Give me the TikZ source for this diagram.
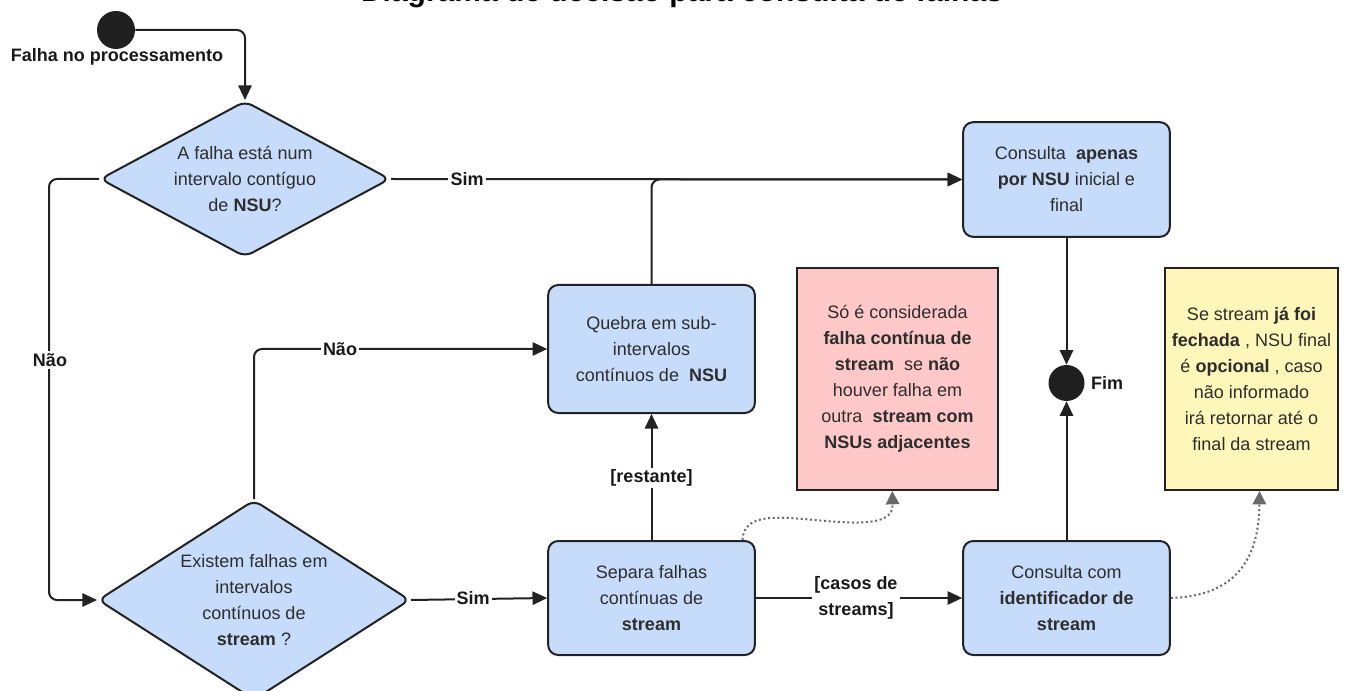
\documentclass[tikz,border=0pt]{standalone}
\usepackage{fontspec}
\setmainfont{Liberation Sans}
\usetikzlibrary{arrows.meta,shapes.geometric}

\definecolor{boxblue}{RGB}{198,220,250}
\definecolor{notepink}{RGB}{255,200,200}
\definecolor{noteyellow}{RGB}{255,246,186}
\definecolor{linedark}{RGB}{34,34,34}
\definecolor{textdark}{RGB}{45,45,45}
\definecolor{dotgray}{RGB}{105,105,105}

\newcommand\flowfont{\fontsize{13.5pt}{19.5pt}\selectfont}

\begin{document}
\begin{tikzpicture}[x=0.75pt,y=-0.75pt,
  every node/.style={font=\flowfont, text=textdark},
  flow/.style={draw=linedark, line width=1.5pt, rounded corners=6pt,
    -{Triangle[length=11pt,width=10pt]}},
  noteflow/.style={draw=dotgray, line width=1.5pt, dotted,
    -{Triangle[length=10pt,width=10pt]}},
  procbox/.style={rectangle, rounded corners=7.5pt, draw=linedark,
    line width=1.5pt, fill=boxblue, align=center, inner sep=0pt,
    minimum width=155pt},
  decision/.style={diamond, draw=linedark, line width=1.5pt, fill=boxblue,
    rounded corners=6pt, inner sep=0pt},
  notebox/.style={rectangle, draw=linedark, line width=1.5pt, align=center,
    inner sep=0pt},
  dot/.style={circle, fill=black!88, inner sep=0pt},
  edgelbl/.style={font=\bfseries\flowfont, text=black!90, fill=white,
    inner sep=1.5pt, align=center}]

\clip (0,0) rectangle (1349,691);

% title, mostly above the top edge
\node[anchor=base, font=\bfseries\fontsize{22.5pt}{27pt}\selectfont, text=black]
  (title) at (682,1.5) {Diagrama de decisão para consulta de falhas};

% start and end
\node[dot, minimum size=28.5pt] (start) at (116,30) {};
\node[font=\bfseries\flowfont, text=black!90] (startlbl) at (117,57) {Falha no processamento};
\node[dot, minimum size=27pt] (fim) at (1066.5,383) {};
\node[font=\bfseries\flowfont, text=black!90] (fimlbl) at (1107,383) {Fim};

% decisions
\node[decision, minimum width=217.5pt, minimum height=117pt] (q1) at (245,179) {};
\node[align=center] (q1txt) at (245,179) {A falha está num\\intervalo contíguo\\de \textbf{NSU}?};
\node[decision, minimum width=234pt, minimum height=150pt] (q2) at (254,600) {};
\node[align=center] (q2txt) at (254,600) {Existem falhas em\\intervalos\\contínuos de\\\textbf{stream} ?};

% actions
\node[procbox, minimum height=96pt] (quebra) at (651.5,349)
  {Quebra em sub-\\intervalos\\contínuos de\ \ \textbf{NSU}};
\node[procbox, minimum height=86pt] (c1) at (1066.5,179.5)
  {Consulta\ \ \textbf{apenas}\\\textbf{por NSU} inicial e\\final};
\node[procbox, minimum height=85.5pt] (separa) at (651.5,598)
  {Separa falhas\\contínuas de\\\textbf{stream}};
\node[procbox, minimum height=85.5pt] (c2) at (1066.5,598)
  {Consulta com\\\textbf{identificador de}\\\textbf{stream}};

% notes
\node[notebox, fill=notepink, minimum width=151pt, minimum height=166.5pt] (pink) at (897.5,379)
  {Só é considerada\\\textbf{falha contínua de}\\\textbf{stream}\ \ se \textbf{não}\\houver falha em\\outra\ \ \textbf{stream com}\\\textbf{NSUs adjacentes}};
\node[notebox, fill=noteyellow, minimum width=130pt, minimum height=166.5pt] (yellow) at (1251.5,379)
  {Se stream \textbf{já foi}\\\textbf{fechada} , NSU final\\é \textbf{opcional} , caso\\não informado\\irá retornar até o\\final da stream};

% connectors
\draw[flow] (start.east) -| (q1.north);
\draw[flow] (q1.east) -- (c1.west);
\draw[flow] (q1.west) -- ++(-50,0) |- (q2.west);
\draw[flow] (q2.east) -- (separa.west);
\draw[flow] (q2.north) |- (quebra.west);
\draw[flow] (quebra.north) |- (c1.west);
\draw[flow] (separa.north) -- (quebra.south);
\draw[flow] (separa.east) -- (c2.west);
\draw[flow] (c1.south) -- (fim.north);
\draw[flow] (c2.north) -- (fim.south);

\draw[noteflow] ([xshift=-10pt]separa.north east)
  .. controls (744,508) and (790,519) .. (840,522)
  .. controls (886,525) and (893,515) .. ([xshift=-4pt]pink.south);
\draw[noteflow] (c2.east)
  .. controls (1235,596) and (1259,560) .. ([xshift=6pt]yellow.south);

% connector labels
\node[edgelbl] (simtop) at (467,179) {Sim};
\node[edgelbl] (naoleft) at (50,360) {Não};
\node[edgelbl] (naomid) at (340,349) {Não};
\node[edgelbl] (simbot) at (473,598) {Sim};
\node[edgelbl] (restante) at (651.5,478) {[restante]};
\node[edgelbl] (casos) at (856,598) {[casos de\\streams]};

\end{tikzpicture}
\end{document}
